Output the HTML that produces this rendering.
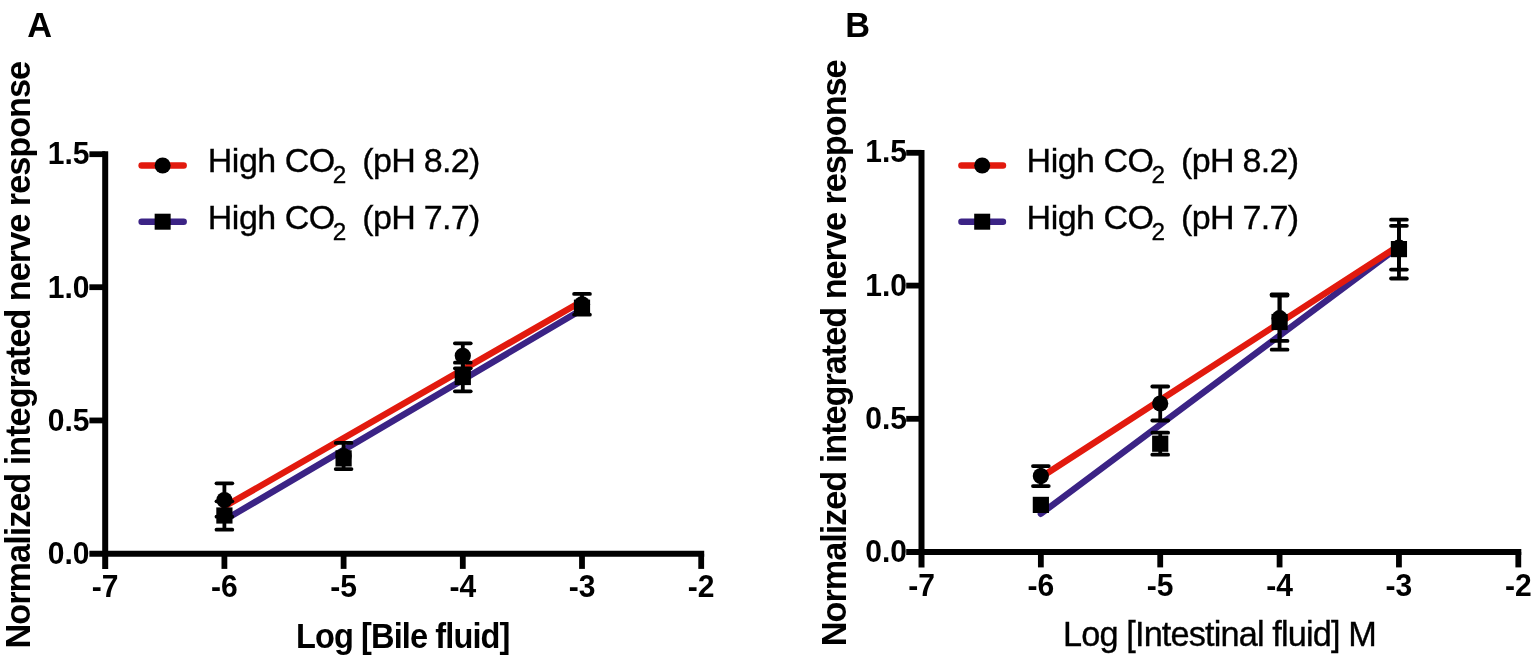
<!DOCTYPE html>
<html><head><meta charset="utf-8"><title>Nerve response</title>
<style>
html,body{margin:0;padding:0;background:#fff;}
body{width:1536px;height:658px;overflow:hidden;}
svg{display:block;}
text{font-family:"Liberation Sans",Arial,Helvetica,sans-serif;fill:#000;}
</style></head>
<body>
<svg width="1536" height="658" viewBox="0 0 1536 658">
<rect width="1536" height="658" fill="#fff"/>
<line x1="105.20" y1="151.30" x2="105.20" y2="568.90" stroke="#000" stroke-width="6"/>
<line x1="89.40" y1="553.70" x2="704.20" y2="553.70" stroke="#000" stroke-width="6"/>
<line x1="224.40" y1="553.70" x2="224.40" y2="568.90" stroke="#000" stroke-width="5.8"/>
<line x1="343.60" y1="553.70" x2="343.60" y2="568.90" stroke="#000" stroke-width="5.8"/>
<line x1="462.80" y1="553.70" x2="462.80" y2="568.90" stroke="#000" stroke-width="5.8"/>
<line x1="582.00" y1="553.70" x2="582.00" y2="568.90" stroke="#000" stroke-width="5.8"/>
<line x1="701.20" y1="553.70" x2="701.20" y2="568.90" stroke="#000" stroke-width="5.8"/>
<line x1="89.40" y1="420.45" x2="105.20" y2="420.45" stroke="#000" stroke-width="5.8"/>
<line x1="89.40" y1="287.20" x2="105.20" y2="287.20" stroke="#000" stroke-width="5.8"/>
<line x1="89.40" y1="154.20" x2="105.20" y2="154.20" stroke="#000" stroke-width="5.8"/>
<text transform="translate(105.20,597.30) scale(0.96,1)" style="font-size:31.3px;font-weight:bold;" text-anchor="middle">-7</text>
<text transform="translate(224.40,597.30) scale(0.96,1)" style="font-size:31.3px;font-weight:bold;" text-anchor="middle">-6</text>
<text transform="translate(343.60,597.30) scale(0.96,1)" style="font-size:31.3px;font-weight:bold;" text-anchor="middle">-5</text>
<text transform="translate(462.80,597.30) scale(0.96,1)" style="font-size:31.3px;font-weight:bold;" text-anchor="middle">-4</text>
<text transform="translate(582.00,597.30) scale(0.96,1)" style="font-size:31.3px;font-weight:bold;" text-anchor="middle">-3</text>
<text transform="translate(701.20,597.30) scale(0.96,1)" style="font-size:31.3px;font-weight:bold;" text-anchor="middle">-2</text>
<text transform="translate(89.50,564.20) scale(0.96,1)" style="font-size:31.3px;font-weight:bold;" text-anchor="end">0.0</text>
<text transform="translate(89.50,430.95) scale(0.96,1)" style="font-size:31.3px;font-weight:bold;" text-anchor="end">0.5</text>
<text transform="translate(89.50,297.70) scale(0.96,1)" style="font-size:31.3px;font-weight:bold;" text-anchor="end">1.0</text>
<text transform="translate(89.50,164.45) scale(0.96,1)" style="font-size:31.3px;font-weight:bold;" text-anchor="end">1.5</text>
<line x1="224.40" y1="520.10" x2="582.00" y2="309.60" stroke="#3b2385" stroke-width="6.4" stroke-linecap="round"/>
<line x1="224.40" y1="506.60" x2="582.00" y2="301.20" stroke="#e21a0e" stroke-width="6.4" stroke-linecap="round"/>
<line x1="224.40" y1="483.30" x2="224.40" y2="516.70" stroke="#000" stroke-width="3.8"/>
<line x1="216.50" y1="483.30" x2="232.30" y2="483.30" stroke="#000" stroke-width="3.8" stroke-linecap="round"/>
<line x1="216.50" y1="516.70" x2="232.30" y2="516.70" stroke="#000" stroke-width="3.8" stroke-linecap="round"/>
<line x1="343.60" y1="442.90" x2="343.60" y2="469.10" stroke="#000" stroke-width="3.8"/>
<line x1="335.70" y1="442.90" x2="351.50" y2="442.90" stroke="#000" stroke-width="3.8" stroke-linecap="round"/>
<line x1="335.70" y1="469.10" x2="351.50" y2="469.10" stroke="#000" stroke-width="3.8" stroke-linecap="round"/>
<line x1="462.80" y1="343.30" x2="462.80" y2="368.30" stroke="#000" stroke-width="3.8"/>
<line x1="454.90" y1="343.30" x2="470.70" y2="343.30" stroke="#000" stroke-width="3.8" stroke-linecap="round"/>
<line x1="454.90" y1="368.30" x2="470.70" y2="368.30" stroke="#000" stroke-width="3.8" stroke-linecap="round"/>
<line x1="582.00" y1="293.90" x2="582.00" y2="314.70" stroke="#000" stroke-width="3.8"/>
<line x1="574.10" y1="293.90" x2="589.90" y2="293.90" stroke="#000" stroke-width="3.8" stroke-linecap="round"/>
<line x1="574.10" y1="314.70" x2="589.90" y2="314.70" stroke="#000" stroke-width="3.8" stroke-linecap="round"/>
<line x1="224.40" y1="501.30" x2="224.40" y2="529.70" stroke="#000" stroke-width="3.8"/>
<line x1="216.50" y1="501.30" x2="232.30" y2="501.30" stroke="#000" stroke-width="3.8" stroke-linecap="round"/>
<line x1="216.50" y1="529.70" x2="232.30" y2="529.70" stroke="#000" stroke-width="3.8" stroke-linecap="round"/>
<line x1="462.80" y1="362.70" x2="462.80" y2="391.30" stroke="#000" stroke-width="3.8"/>
<line x1="454.90" y1="362.70" x2="470.70" y2="362.70" stroke="#000" stroke-width="3.8" stroke-linecap="round"/>
<line x1="454.90" y1="391.30" x2="470.70" y2="391.30" stroke="#000" stroke-width="3.8" stroke-linecap="round"/>
<circle cx="224.40" cy="500.00" r="8.10" fill="#000"/>
<circle cx="343.60" cy="456.00" r="8.10" fill="#000"/>
<circle cx="462.80" cy="355.80" r="8.10" fill="#000"/>
<circle cx="582.00" cy="304.30" r="8.10" fill="#000"/>
<rect x="216.30" y="507.40" width="16.20" height="16.20" fill="#000"/>
<rect x="335.50" y="450.30" width="16.20" height="16.20" fill="#000"/>
<rect x="454.70" y="368.90" width="16.20" height="16.20" fill="#000"/>
<rect x="573.90" y="299.60" width="16.20" height="16.20" fill="#000"/>
<line x1="141.60" y1="165.50" x2="183.70" y2="165.50" stroke="#e21a0e" stroke-width="6.4" stroke-linecap="round"/>
<circle cx="162.65" cy="165.50" r="8" fill="#000"/>
<text transform="translate(207.80,172.00)" style="font-size:34px;stroke:#000;stroke-width:0.35px;letter-spacing:-0.5px;">High CO</text>
<text transform="translate(332.80,182.60)" style="font-size:24.3px;stroke:#000;stroke-width:0.35px;">2</text>
<text transform="translate(362.30,172.00)" style="font-size:34px;stroke:#000;stroke-width:0.35px;letter-spacing:-0.7px;">(pH 8.2)</text>
<line x1="141.60" y1="221.70" x2="183.70" y2="221.70" stroke="#3b2385" stroke-width="6.4" stroke-linecap="round"/>
<rect x="154.65" y="213.70" width="16" height="16" fill="#000"/>
<text transform="translate(207.80,229.00)" style="font-size:34px;stroke:#000;stroke-width:0.35px;letter-spacing:-0.5px;">High CO</text>
<text transform="translate(332.80,239.60)" style="font-size:24.3px;stroke:#000;stroke-width:0.35px;">2</text>
<text transform="translate(362.30,229.00)" style="font-size:34px;stroke:#000;stroke-width:0.35px;letter-spacing:-0.7px;">(pH 7.7)</text>
<text transform="translate(296.00,648.00) scale(0.95,1)" style="font-size:34.3px;font-weight:bold;letter-spacing:-0.95px;">Log [Bile fluid]</text>
<text transform="translate(29.60,648.40) rotate(-90)" style="font-size:34.3px;font-weight:bold;letter-spacing:-1.02px;">Normalized integrated nerve response</text>
<text transform="translate(27.30,37.20)" style="font-size:34.3px;font-weight:bold;">A</text>
<line x1="921.50" y1="149.90" x2="921.50" y2="567.40" stroke="#000" stroke-width="6"/>
<line x1="906.20" y1="552.00" x2="1521.30" y2="552.00" stroke="#000" stroke-width="6"/>
<line x1="1040.86" y1="552.00" x2="1040.86" y2="567.40" stroke="#000" stroke-width="5.8"/>
<line x1="1160.22" y1="552.00" x2="1160.22" y2="567.40" stroke="#000" stroke-width="5.8"/>
<line x1="1279.58" y1="552.00" x2="1279.58" y2="567.40" stroke="#000" stroke-width="5.8"/>
<line x1="1398.94" y1="552.00" x2="1398.94" y2="567.40" stroke="#000" stroke-width="5.8"/>
<line x1="1518.30" y1="552.00" x2="1518.30" y2="567.40" stroke="#000" stroke-width="5.8"/>
<line x1="906.20" y1="418.80" x2="921.50" y2="418.80" stroke="#000" stroke-width="5.8"/>
<line x1="906.20" y1="285.60" x2="921.50" y2="285.60" stroke="#000" stroke-width="5.8"/>
<line x1="906.20" y1="152.80" x2="921.50" y2="152.80" stroke="#000" stroke-width="5.8"/>
<text transform="translate(921.50,596.00) scale(0.96,1)" style="font-size:31.3px;font-weight:bold;" text-anchor="middle">-7</text>
<text transform="translate(1040.86,596.00) scale(0.96,1)" style="font-size:31.3px;font-weight:bold;" text-anchor="middle">-6</text>
<text transform="translate(1160.22,596.00) scale(0.96,1)" style="font-size:31.3px;font-weight:bold;" text-anchor="middle">-5</text>
<text transform="translate(1279.58,596.00) scale(0.96,1)" style="font-size:31.3px;font-weight:bold;" text-anchor="middle">-4</text>
<text transform="translate(1398.94,596.00) scale(0.96,1)" style="font-size:31.3px;font-weight:bold;" text-anchor="middle">-3</text>
<text transform="translate(1518.30,596.00) scale(0.96,1)" style="font-size:31.3px;font-weight:bold;" text-anchor="middle">-2</text>
<text transform="translate(907.00,562.00) scale(0.96,1)" style="font-size:31.3px;font-weight:bold;" text-anchor="end">0.0</text>
<text transform="translate(907.00,428.80) scale(0.96,1)" style="font-size:31.3px;font-weight:bold;" text-anchor="end">0.5</text>
<text transform="translate(907.00,295.60) scale(0.96,1)" style="font-size:31.3px;font-weight:bold;" text-anchor="end">1.0</text>
<text transform="translate(907.00,162.40) scale(0.96,1)" style="font-size:31.3px;font-weight:bold;" text-anchor="end">1.5</text>
<line x1="1040.86" y1="513.80" x2="1398.94" y2="246.60" stroke="#3b2385" stroke-width="6.4" stroke-linecap="round"/>
<line x1="1040.86" y1="477.30" x2="1398.94" y2="245.60" stroke="#e21a0e" stroke-width="6.4" stroke-linecap="round"/>
<line x1="1040.86" y1="466.10" x2="1040.86" y2="486.10" stroke="#000" stroke-width="3.8"/>
<line x1="1032.96" y1="466.10" x2="1048.76" y2="466.10" stroke="#000" stroke-width="3.8" stroke-linecap="round"/>
<line x1="1032.96" y1="486.10" x2="1048.76" y2="486.10" stroke="#000" stroke-width="3.8" stroke-linecap="round"/>
<line x1="1160.22" y1="386.50" x2="1160.22" y2="420.50" stroke="#000" stroke-width="3.8"/>
<line x1="1152.32" y1="386.50" x2="1168.12" y2="386.50" stroke="#000" stroke-width="3.8" stroke-linecap="round"/>
<line x1="1152.32" y1="420.50" x2="1168.12" y2="420.50" stroke="#000" stroke-width="3.8" stroke-linecap="round"/>
<line x1="1279.58" y1="295.50" x2="1279.58" y2="340.90" stroke="#000" stroke-width="3.8"/>
<line x1="1271.68" y1="295.50" x2="1287.48" y2="295.50" stroke="#000" stroke-width="3.8" stroke-linecap="round"/>
<line x1="1271.68" y1="340.90" x2="1287.48" y2="340.90" stroke="#000" stroke-width="3.8" stroke-linecap="round"/>
<line x1="1398.94" y1="225.80" x2="1398.94" y2="269.60" stroke="#000" stroke-width="3.8"/>
<line x1="1391.04" y1="225.80" x2="1406.84" y2="225.80" stroke="#000" stroke-width="3.8" stroke-linecap="round"/>
<line x1="1391.04" y1="269.60" x2="1406.84" y2="269.60" stroke="#000" stroke-width="3.8" stroke-linecap="round"/>
<line x1="1160.22" y1="432.70" x2="1160.22" y2="454.70" stroke="#000" stroke-width="3.8"/>
<line x1="1152.32" y1="432.70" x2="1168.12" y2="432.70" stroke="#000" stroke-width="3.8" stroke-linecap="round"/>
<line x1="1152.32" y1="454.70" x2="1168.12" y2="454.70" stroke="#000" stroke-width="3.8" stroke-linecap="round"/>
<line x1="1279.58" y1="294.30" x2="1279.58" y2="349.70" stroke="#000" stroke-width="3.8"/>
<line x1="1271.68" y1="294.30" x2="1287.48" y2="294.30" stroke="#000" stroke-width="3.8" stroke-linecap="round"/>
<line x1="1271.68" y1="349.70" x2="1287.48" y2="349.70" stroke="#000" stroke-width="3.8" stroke-linecap="round"/>
<line x1="1398.94" y1="219.70" x2="1398.94" y2="278.50" stroke="#000" stroke-width="3.8"/>
<line x1="1391.04" y1="219.70" x2="1406.84" y2="219.70" stroke="#000" stroke-width="3.8" stroke-linecap="round"/>
<line x1="1391.04" y1="278.50" x2="1406.84" y2="278.50" stroke="#000" stroke-width="3.8" stroke-linecap="round"/>
<circle cx="1040.86" cy="476.10" r="8.10" fill="#000"/>
<circle cx="1160.22" cy="403.50" r="8.10" fill="#000"/>
<circle cx="1279.58" cy="318.20" r="8.10" fill="#000"/>
<circle cx="1398.94" cy="247.70" r="8.10" fill="#000"/>
<rect x="1032.76" y="496.80" width="16.20" height="16.20" fill="#000"/>
<rect x="1152.12" y="435.60" width="16.20" height="16.20" fill="#000"/>
<rect x="1271.48" y="313.90" width="16.20" height="16.20" fill="#000"/>
<rect x="1390.84" y="241.00" width="16.20" height="16.20" fill="#000"/>
<line x1="961.40" y1="165.50" x2="1003.00" y2="165.50" stroke="#e21a0e" stroke-width="6.4" stroke-linecap="round"/>
<circle cx="982.20" cy="165.50" r="8" fill="#000"/>
<text transform="translate(1026.60,172.40)" style="font-size:34px;stroke:#000;stroke-width:0.35px;letter-spacing:-0.5px;">High CO</text>
<text transform="translate(1151.60,183.00)" style="font-size:24.3px;stroke:#000;stroke-width:0.35px;">2</text>
<text transform="translate(1181.10,172.40)" style="font-size:34px;stroke:#000;stroke-width:0.35px;letter-spacing:-0.7px;">(pH 8.2)</text>
<line x1="961.40" y1="221.70" x2="1003.00" y2="221.70" stroke="#3b2385" stroke-width="6.4" stroke-linecap="round"/>
<rect x="974.20" y="213.70" width="16" height="16" fill="#000"/>
<text transform="translate(1026.60,229.40)" style="font-size:34px;stroke:#000;stroke-width:0.35px;letter-spacing:-0.5px;">High CO</text>
<text transform="translate(1151.60,240.00)" style="font-size:24.3px;stroke:#000;stroke-width:0.35px;">2</text>
<text transform="translate(1181.10,229.40)" style="font-size:34px;stroke:#000;stroke-width:0.35px;letter-spacing:-0.7px;">(pH 7.7)</text>
<text transform="translate(1063.00,645.90)" style="font-size:34.3px;stroke:#000;stroke-width:0.35px;letter-spacing:-0.86px;">Log [Intestinal fluid] M</text>
<text transform="translate(846.00,646.20) rotate(-90)" style="font-size:34.3px;font-weight:bold;letter-spacing:-1.04px;">Normalized integrated nerve response</text>
<text transform="translate(845.30,37.20)" style="font-size:34.3px;font-weight:bold;">B</text>
</svg>
</body></html>
